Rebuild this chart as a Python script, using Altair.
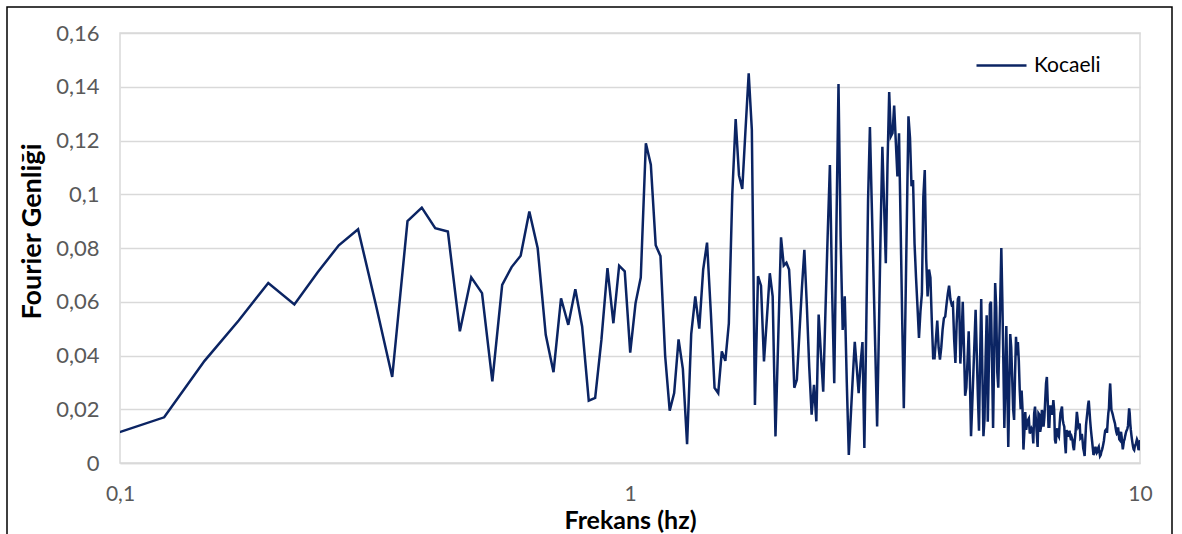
import altair as alt
import pandas as pd

# Spectral line spacing of the Fourier spectrum (Hz) and index of the first line drawn
FREQ_STEP = 0.0244140625
FIRST_LINE = 4

# Fourier amplitudes, line by line (k = 4 ... 410)
amp_a = [0.0109, 0.017, 0.038, 0.053, 0.067, 0.059, 0.071, 0.081, 0.087, 0.059,
         0.032, 0.090, 0.095, 0.0874, 0.0861, 0.049, 0.0691, 0.0632, 0.0304, 0.0663,
         0.0729, 0.0771, 0.0936, 0.0799, 0.0477, 0.0338, 0.0613, 0.0514, 0.0647, 0.0508,
         0.0232, 0.0242, 0.0458, 0.0725, 0.052, 0.0734, 0.0713, 0.0411, 0.0595, 0.069,
         0.119, 0.111, 0.081, 0.077, 0.040, 0.0195, 0.026, 0.046, 0.035, 0.007,
         0.048, 0.062, 0.050, 0.072, 0.082, 0.056, 0.028, 0.026, 0.0415, 0.038]
amp_b = [0.052, 0.100, 0.128, 0.107, 0.102, 0.124, 0.145, 0.124, 0.0216, 0.0695,
         0.066, 0.0378, 0.054, 0.0706, 0.062, 0.0099, 0.047, 0.084, 0.0735, 0.0745,
         0.072, 0.054, 0.028, 0.031, 0.048, 0.065, 0.0793, 0.0589, 0.0357, 0.018,
         0.0291, 0.0155, 0.0552, 0.0403, 0.0265, 0.0568, 0.085, 0.1109, 0.0646, 0.0297,
         0.0871, 0.141, 0.084, 0.0495, 0.062, 0.030, 0.003, 0.0177, 0.032, 0.0451,
         0.0357, 0.026, 0.037, 0.045, 0.0056, 0.0494, 0.098, 0.125, 0.0967, 0.0689,
         0.0413, 0.0136, 0.049, 0.0865, 0.1177, 0.096, 0.0743, 0.111, 0.138, 0.1215,
         0.1227, 0.133, 0.1196, 0.1066, 0.1227, 0.088, 0.053, 0.0204, 0.055, 0.0923,
         0.129, 0.121, 0.103, 0.1053, 0.0818, 0.069, 0.058, 0.0465, 0.0563, 0.063,
         0.099, 0.109, 0.076, 0.062, 0.072, 0.069, 0.053, 0.039, 0.039, 0.046,
         0.053, 0.043, 0.0385, 0.043, 0.0496, 0.0539, 0.0545, 0.059, 0.063, 0.066,
         0.061, 0.059, 0.0595, 0.046, 0.0372, 0.052, 0.061, 0.062, 0.037, 0.046,
         0.060, 0.043]
amp_c = [0.025, 0.028, 0.038, 0.049, 0.032, 0.010, 0.021, 0.033, 0.045, 0.057,
         0.041, 0.025, 0.012, 0.039, 0.061, 0.035, 0.010, 0.0165, 0.039, 0.055,
         0.0154, 0.036, 0.059, 0.060, 0.038, 0.013, 0.039, 0.067, 0.058, 0.034,
         0.028, 0.045, 0.062, 0.080, 0.061, 0.038, 0.013, 0.030, 0.051, 0.028,
         0.006, 0.027, 0.048, 0.043, 0.032, 0.020, 0.016, 0.033, 0.047, 0.040,
         0.045, 0.038, 0.027, 0.020, 0.027, 0.020, 0.005, 0.0116, 0.019, 0.0123,
         0.0147, 0.016, 0.0166, 0.011, 0.0117]
amp_d = [0.0129, 0.0123, 0.0073, 0.0185, 0.021, 0.016, 0.011, 0.006, 0.0185, 0.018,
         0.0116, 0.0135, 0.0197, 0.0185, 0.0135, 0.017, 0.0234, 0.0296, 0.032, 0.0234,
         0.0135, 0.0135, 0.021, 0.021, 0.018, 0.019, 0.0234, 0.0197, 0.0086, 0.0073,
         0.0116, 0.0129, 0.0104, 0.0098, 0.0147, 0.0185, 0.0197, 0.021, 0.016, 0.0145,
         0.0135, 0.0073, 0.0036, 0.0123, 0.011, 0.0098, 0.011, 0.012, 0.0098, 0.0085,
         0.0095, 0.0085, 0.006, 0.0048, 0.008, 0.0108, 0.0147, 0.019, 0.0166, 0.0135,
         0.014, 0.0147, 0.0092, 0.0095, 0.0108, 0.0085, 0.0055, 0.0042, 0.0026, 0.0085,
         0.014, 0.0166, 0.019, 0.0216, 0.0232, 0.0197, 0.016, 0.0129, 0.0104, 0.008]
amp_e = [0.0055, 0.003, 0.0036, 0.0048, 0.006, 0.0048, 0.0038, 0.0042, 0.0055, 0.006,
         0.0042, 0.0026, 0.003, 0.0042, 0.0048, 0.0058, 0.007, 0.0083, 0.0104, 0.012,
         0.0123, 0.0116, 0.0116, 0.0154, 0.0185, 0.0203, 0.026, 0.0296, 0.0247, 0.0197,
         0.019, 0.0182, 0.0172, 0.0162, 0.0154, 0.0145, 0.0129, 0.0116, 0.0108, 0.011,
         0.0133, 0.011, 0.0088, 0.0085, 0.0104, 0.0116, 0.0098, 0.0073, 0.0051, 0.0067,
         0.0083, 0.0088, 0.01, 0.011, 0.0118, 0.0123, 0.0129, 0.0138, 0.0172, 0.0203,
         0.0185, 0.0147, 0.0123, 0.0104, 0.0088, 0.0073, 0.006, 0.0051, 0.0048, 0.006,
         0.0067, 0.007, 0.008, 0.0088, 0.0083, 0.006, 0.0048, 0.0055, 0.0073, 0.0085]

series_name = "Kocaeli"
y_ticks = [0, 0.02, 0.04, 0.06, 0.08, 0.1, 0.12, 0.14, 0.16]
x_ticks = [0.1, 1, 10]

amplitudes = amp_a + amp_b + amp_c + amp_d + amp_e
freqs = [(FIRST_LINE + i) * FREQ_STEP for i in range(len(amplitudes))]
df = pd.DataFrame({"f": freqs, "a": amplitudes, "s": [series_name] * len(amplitudes)})

FONT = "Lato"
NAVY = "#0b2463"
GRID = "#d9d9d9"

line = alt.Chart(df).mark_line(clip=True, strokeWidth=2.5).encode(
    x=alt.X("f:Q",
            scale=alt.Scale(type="log", domain=[0.1, 10], nice=False),
            axis=alt.Axis(values=x_ticks,
                          labelExpr="replace(format(datum.value, '~g'), '.', ',')",
                          grid=False, ticks=False, domain=True,
                          domainColor=GRID, domainWidth=1.5,
                          labelFlush=False, labelPadding=20,
                          labelFont=FONT, labelFontSize=21, labelColor="#595959",
                          title="Frekans (hz)", titleFont=FONT, titleFontSize=25,
                          titleFontWeight="bold", titleColor="black", titlePadding=4)),
    y=alt.Y("a:Q",
            scale=alt.Scale(domain=[0, 0.16], nice=False),
            axis=alt.Axis(values=y_ticks,
                          labelExpr="replace(format(datum.value, '~g'), '.', ',')",
                          grid=True, gridColor=GRID, gridWidth=1.5,
                          ticks=False, domain=False, labelPadding=21,
                          labelFont=FONT, labelFontSize=22, labelColor="#595959",
                          title="Fourier Genliği", titleFont=FONT, titleFontSize=27,
                          titleFontWeight="bold", titleColor="black", titlePadding=9,
                          titleY=198)),
    color=alt.Color("s:N",
                    scale=alt.Scale(domain=[series_name], range=[NAVY]),
                    legend=alt.Legend(title=None, orient="none", legendX=855, legendY=6,
                                      symbolType="stroke", symbolSize=2500,
                                      symbolStrokeWidth=2.5, padding=0,
                                      labelFont=FONT, labelFontSize=21,
                                      labelColor="black", labelOffset=6)),
)

frame = alt.Chart(pd.DataFrame({"b": [0]})).mark_rect(
    fillOpacity=0, stroke="black", strokeWidth=1.5, clip=False
).encode(x=alt.value(-113), x2=alt.value(1052), y=alt.value(-26), y2=alt.value(600))

chart = alt.layer(frame, line).properties(
    width=1020, height=430,
    padding={"left": 120, "top": 33, "right": 42, "bottom": 71},
    autosize=alt.AutoSizeParams(type="none"),
    background="white",
).configure_view(stroke=GRID, strokeWidth=1.5)

chart.save("out.html", embed_options={"renderer": "svg", "actions": False})
